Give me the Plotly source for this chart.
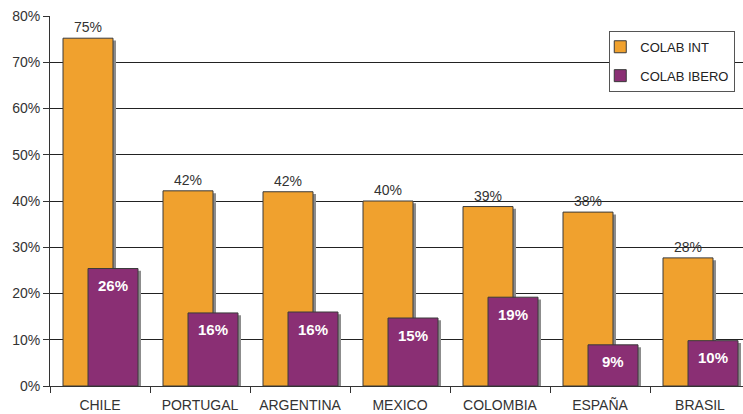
import plotly.graph_objects as go

countries = ["CHILE", "PORTUGAL", "ARGENTINA", "MEXICO", "COLOMBIA", "ESPAÑA", "BRASIL"]
colab_int = [75.2, 42.2, 42.0, 40.0, 38.8, 37.6, 27.7]
colab_int_labels = ["75%", "42%", "42%", "40%", "39%", "38%", "28%"]
colab_ibero = [25.4, 15.8, 16.0, 14.7, 19.2, 8.9, 9.8]
colab_ibero_labels = ["26%", "16%", "16%", "15%", "19%", "9%", "10%"]
y_ticks = [0, 10, 20, 30, 40, 50, 60, 70, 80]

ORANGE = "#F0A12E"
PURPLE = "#8A2F74"
SHADOW = "#8C8C8C"
EDGE = "#3a3a3a"

fig = go.Figure()

# shadow + bar for colab int
fig.add_trace(go.Bar(x=countries, y=[v - 0.5 for v in colab_int], width=0.5, offset=-0.34,
                     marker=dict(color=SHADOW, line=dict(width=0)),
                     showlegend=False, hoverinfo="skip"))
fig.add_trace(go.Bar(x=countries, y=colab_int, width=0.5, offset=-0.37, name="COLAB INT",
                     legendgroup="a",
                     marker=dict(color=ORANGE, line=dict(color=EDGE, width=1)),
                     text=colab_int_labels, textposition="outside", cliponaxis=False,
                     textfont=dict(size=14, color="#333333", family="Liberation Sans, Arial")))

# shadow + bar for colab ibero
fig.add_trace(go.Bar(x=countries, y=[v - 0.5 for v in colab_ibero], width=0.5, offset=-0.09,
                     marker=dict(color=SHADOW, line=dict(width=0)),
                     showlegend=False, hoverinfo="skip"))
fig.add_trace(go.Bar(x=countries, y=colab_ibero, width=0.5, offset=-0.12, name="COLAB IBERO",
                     legendgroup="b",
                     marker=dict(color=PURPLE, line=dict(color=EDGE, width=1))))

# white labels a bit below the top of each purple bar
for i, (v, lab) in enumerate(zip(colab_ibero, colab_ibero_labels)):
    fig.add_annotation(x=i + 0.13, y=v, text=lab, showarrow=False, yshift=-17,
                       font=dict(size=15, color="white", family="Liberation Sans, Arial",
                                 weight="bold"))

fig.update_layout(
    width=743, height=414,
    margin=dict(l=50, r=0, t=16, b=28, autoexpand=False),
    barmode="overlay",
    plot_bgcolor="white", paper_bgcolor="white",
    font=dict(family="Liberation Sans, Arial", size=14, color="#333333"),
    legend=dict(x=0.807, y=0.96, xanchor="left", yanchor="top",
                bgcolor="white", bordercolor="#555555", borderwidth=1,
                font=dict(size=13, color="#222222"), traceorder="grouped",
                tracegroupgap=9, indentation=-10),
)

fig.update_xaxes(range=[-0.5, 6.43], tickson="boundaries", ticks="outside", ticklen=6,
                 tickcolor="#333333", showline=True, linecolor="#333333", linewidth=1,
                 showgrid=False, automargin=False, ticklabelstandoff=6,
                 tickfont=dict(size=14, color="#333333"))
fig.update_yaxes(range=[0, 80], tickvals=y_ticks, ticktext=[f"{v}%" for v in y_ticks],
                 ticks="outside", ticklen=6, tickcolor="#333333",
                 showline=True, linecolor="#333333", linewidth=1,
                 showgrid=True, gridcolor="#222222", gridwidth=1, automargin=False,
                 tickfont=dict(size=14, color="#333333"))

# page body has a default margin; drop it so the figure sits at the window corner
fig.write_html("out.html", config={"displayModeBar": False},
               post_script="document.body.style.margin='0';")
